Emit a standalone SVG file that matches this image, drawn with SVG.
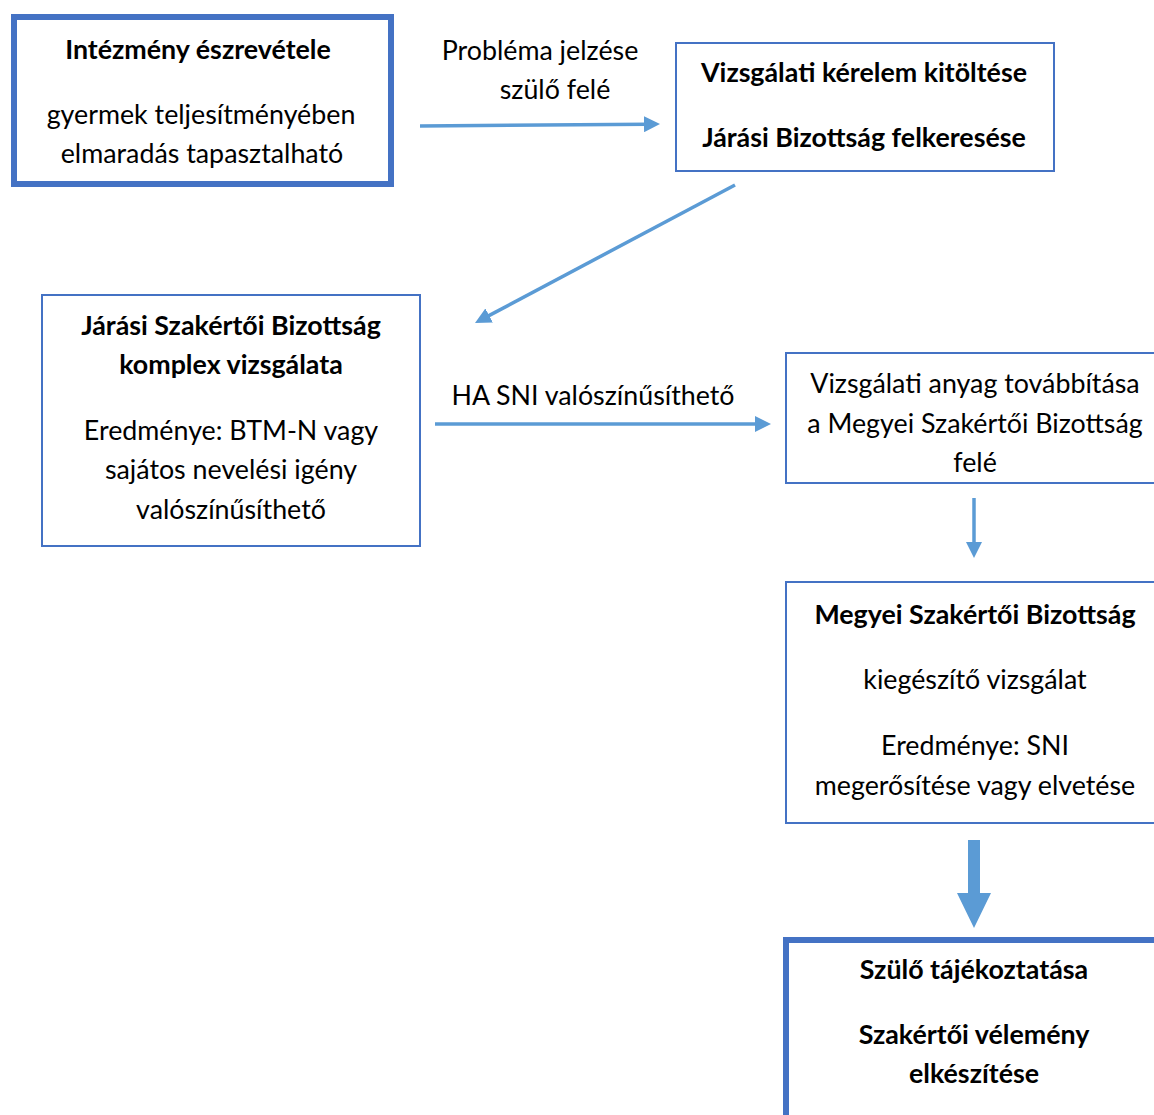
<svg xmlns="http://www.w3.org/2000/svg" width="1154" height="1115" viewBox="0 0 1154 1115">
  <defs>
    <style>
      .box { fill: #ffffff; stroke: #4472C4; stroke-width: 2; }
      .thick { stroke-width: 6; }
      .t { font-family: Lato, "Liberation Sans", sans-serif; font-size: 26.8px; fill: #000000; text-anchor: middle; }
      .b { font-weight: bold; }
      .conn { fill: none; stroke: #5B9BD5; stroke-width: 3.5; marker-end: url(#ah); }
    </style>
    <marker id="ah" viewBox="0 0 16 16" refX="4" refY="8" markerWidth="16" markerHeight="16" markerUnits="userSpaceOnUse" orient="auto">
      <path d="M0,0 L16,8 L0,16 z" fill="#5B9BD5"/>
    </marker>
  </defs>
  <rect width="1154" height="1115" fill="#ffffff"/>

  <g id="node-intezmeny">
    <rect class="box thick" x="14" y="17" width="377" height="167"/>
    <text class="t b" x="198" y="59">Intézmény észrevétele</text>
    <text class="t" x="201" y="124">gyermek teljesítményében</text>
    <text class="t" x="202" y="163">elmaradás tapasztalható</text>
  </g>

  <g id="node-kerelem">
    <rect class="box" x="676" y="43" width="378" height="128"/>
    <text class="t b" x="864" y="82">Vizsgálati kérelem kitöltése</text>
    <text class="t b" x="864" y="147">Járási Bizottság felkeresése</text>
  </g>

  <g id="node-jarasi">
    <rect class="box" x="42" y="295" width="378" height="251"/>
    <text class="t b" x="231" y="335">Járási Szakértői Bizottság</text>
    <text class="t b" x="231" y="374">komplex vizsgálata</text>
    <text class="t" x="231" y="440">Eredménye: BTM-N vagy</text>
    <text class="t" x="231" y="479">sajátos nevelési igény</text>
    <text class="t" x="231" y="519">valószínűsíthető</text>
  </g>

  <g id="node-tovabbitas">
    <rect class="box" x="786" y="353" width="390" height="130"/>
    <text class="t" x="975" y="393">Vizsgálati anyag továbbítása</text>
    <text class="t" x="975" y="433">a Megyei Szakértői Bizottság</text>
    <text class="t" x="975" y="472">felé</text>
  </g>

  <g id="node-megyei">
    <rect class="box" x="786" y="582" width="390" height="241"/>
    <text class="t b" x="975" y="624">Megyei Szakértői Bizottság</text>
    <text class="t" x="975" y="689">kiegészítő vizsgálat</text>
    <text class="t" x="975" y="755">Eredménye: SNI</text>
    <text class="t" x="975" y="795">megerősítése vagy elvetése</text>
  </g>

  <g id="node-szulo">
    <rect class="box thick" x="786" y="940" width="400" height="200"/>
    <text class="t b" x="974" y="979">Szülő tájékoztatása</text>
    <text class="t b" x="974" y="1044">Szakértői vélemény</text>
    <text class="t b" x="974" y="1083">elkészítése</text>
  </g>

  <g id="connectors">
    <path class="conn" d="M420,126 L648,124.2"/>
    <text class="t" x="540" y="60">Probléma jelzése</text>
    <text class="t" x="555" y="99">szülő felé</text>
    <path class="conn" d="M735,185 L485.6,317.4"/>
    <path class="conn" d="M435,424 L759,424"/>
    <text class="t" x="593" y="405">HA SNI valószínűsíthető</text>
    <path class="conn" d="M974,498 L974,546"/>
    <polygon points="968,840 980,840 980,893 991,893 974,928 957,893 968,893" fill="#5B9BD5"/>
  </g>
</svg>
